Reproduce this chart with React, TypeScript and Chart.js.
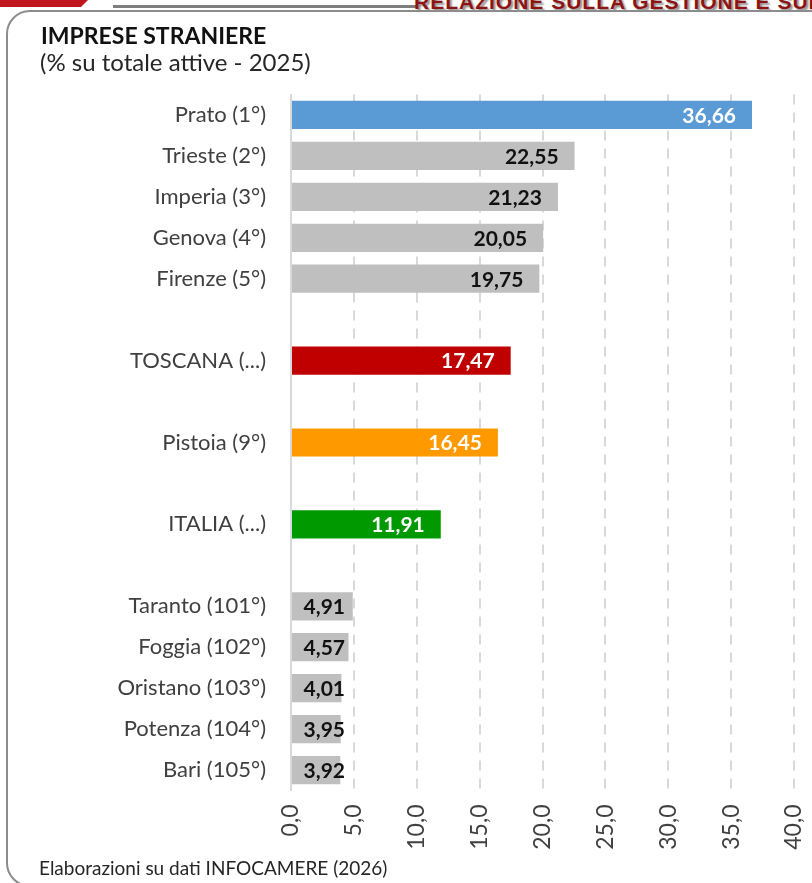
import React, { useEffect, useRef } from "react";
import { Chart, registerables } from "chart.js";

Chart.register(...registerables);

const categories = [
  "Prato (1°)",
  "Trieste (2°)",
  "Imperia (3°)",
  "Genova (4°)",
  "Firenze (5°)",
  "",
  "TOSCANA (...)",
  "",
  "Pistoia (9°)",
  "",
  "ITALIA (...)",
  "",
  "Taranto (101°)",
  "Foggia (102°)",
  "Oristano (103°)",
  "Potenza (104°)",
  "Bari (105°)",
];

const values: (number | null)[] = [
  36.66, 22.55, 21.23, 20.05, 19.75, null, 17.47, null, 16.45, null, 11.91, null,
  4.91, 4.57, 4.01, 3.95, 3.92,
];

const GRAY = "#BFBFBF";
const barColors = [
  "#5B9BD5", GRAY, GRAY, GRAY, GRAY, GRAY, "#C00000", GRAY, "#FF9900", GRAY, "#009900", GRAY,
  GRAY, GRAY, GRAY, GRAY, GRAY,
];
const valueLabelColors = [
  "#FFFFFF", "#111111", "#111111", "#111111", "#111111", "#111111", "#FFFFFF", "#111111",
  "#FFFFFF", "#111111", "#FFFFFF", "#111111", "#111111", "#111111", "#111111", "#111111", "#111111",
];

const xMin = 0;
const xMax = 40;
const xStep = 5;

const title = "IMPRESE STRANIERE";
const subtitle = "(% su totale attive - 2025)";
const footer = "Elaborazioni su dati INFOCAMERE (2026)";
const header = "RELAZIONE SULLA GESTIONE E SUI RISULTATI";

const FONT = "Lato, 'Open Sans', sans-serif";

const valueLabelsPlugin = {
  id: "valueLabels",
  afterDatasetsDraw(chart: any) {
    const { ctx, chartArea } = chart;
    const meta = chart.getDatasetMeta(0);
    ctx.save();
    ctx.font = `bold 21px ${FONT}`;
    ctx.textAlign = "right";
    ctx.textBaseline = "middle";
    meta.data.forEach((bar: any, i: number) => {
      const v = values[i];
      if (v == null) return;
      const txt = v.toFixed(2).replace(".", ",");
      const x = Math.max(bar.x - 16, chartArea.left + 54);
      ctx.fillStyle = valueLabelColors[i];
      ctx.fillText(txt, x, bar.y + 1);
    });
    ctx.restore();
  },
};

export default function App() {
  const canvasRef = useRef<HTMLCanvasElement | null>(null);

  useEffect(() => {
    if (!canvasRef.current) return;
    const chart = new Chart(canvasRef.current, {
      type: "bar",
      data: {
        labels: categories,
        datasets: [
          {
            data: values as any,
            backgroundColor: barColors,
            borderWidth: 0,
            barPercentage: 0.69,
            categoryPercentage: 1,
          },
        ],
      },
      options: {
        indexAxis: "y",
        responsive: false,
        maintainAspectRatio: false,
        animation: false,
        layout: { padding: { top: 94.5, right: 18, bottom: 0, left: 0 } },
        plugins: {
          legend: { display: false },
          tooltip: { enabled: false },
        },
        scales: {
          x: {
            min: xMin,
            max: xMax,
            ticks: {
              stepSize: xStep,
              maxRotation: 90,
              minRotation: 90,
              padding: 14,
              color: "#404040",
              font: { family: FONT, size: 23 },
              callback: (v: any) => Number(v).toFixed(1).replace(".", ","),
            },
            grid: {
              color: (c: any) => (c.index === 0 ? "rgba(0,0,0,0)" : "#D9D9D9"),
              lineWidth: 2,
              drawTicks: false,
            },
            border: { display: false, dash: [10, 8] },
            afterFit: (s: any) => {
              s.height = 883 - 790.5;
              s.paddingLeft = 0;
              s.paddingRight = 0;
            },
          },
          y: {
            ticks: {
              color: "#404040",
              font: { family: FONT, size: 22 },
              padding: 25,
              autoSkip: false,
            },
            grid: { display: false, drawTicks: false },
            border: { display: true, color: "#D9D9D9", width: 2 },
            afterFit: (s: any) => {
              s.width = 291;
              s.paddingTop = 0;
              s.paddingBottom = 0;
            },
          },
        },
      },
      plugins: [valueLabelsPlugin],
    } as any);
    return () => chart.destroy();
  }, []);

  return (
    <div
      style={{
        position: "absolute",
        left: 0,
        top: 0,
        width: 812,
        height: 883,
        overflow: "hidden",
        background: "#FFFFFF",
      }}
    >
      <div
        style={{
          position: "absolute",
          left: 0,
          top: 0,
          width: 88,
          height: 7,
          background: "#C0161E",
          clipPath: "polygon(0 0, 100% 0, 92% 100%, 0 100%)",
        }}
      />
      <div
        style={{
          position: "absolute",
          left: 113,
          top: 5,
          width: 305,
          height: 2.5,
          background: "#7F7F7F",
        }}
      />
      <div
        style={{
          position: "absolute",
          left: 414,
          top: -9,
          fontFamily: "'Liberation Sans', Arial, sans-serif",
          fontWeight: "bold",
          fontSize: 21,
          lineHeight: "21px",
          letterSpacing: 1,
          color: "#8E1414",
          whiteSpace: "nowrap",
          textShadow: "2px 2px 2px #8c8c8c",
        }}
      >
        {header}
      </div>
      <div
        style={{
          position: "absolute",
          left: 6,
          top: 10,
          width: 830,
          height: 877,
          boxSizing: "border-box",
          border: "2.5px solid #8C8C8C",
          borderRadius: 24,
        }}
      />
      <canvas
        ref={canvasRef}
        width={812}
        height={883}
        style={{ position: "absolute", left: 0, top: 0, width: 812, height: 883 }}
      />
      <div
        style={{
          position: "absolute",
          left: 41,
          top: 23.6,
          fontFamily: FONT,
          fontWeight: "bold",
          fontSize: 23,
          lineHeight: "23px",
          color: "#111111",
          whiteSpace: "nowrap",
        }}
      >
        {title}
      </div>
      <div
        style={{
          position: "absolute",
          left: 40,
          top: 50.2,
          fontFamily: FONT,
          fontSize: 24,
          lineHeight: "24px",
          color: "#262626",
          whiteSpace: "nowrap",
        }}
      >
        {subtitle}
      </div>
      <div
        style={{
          position: "absolute",
          left: 39,
          top: 857.5,
          fontFamily: FONT,
          fontSize: 19,
          lineHeight: "19px",
          color: "#262626",
          whiteSpace: "nowrap",
        }}
      >
        {footer}
      </div>
    </div>
  );
}
